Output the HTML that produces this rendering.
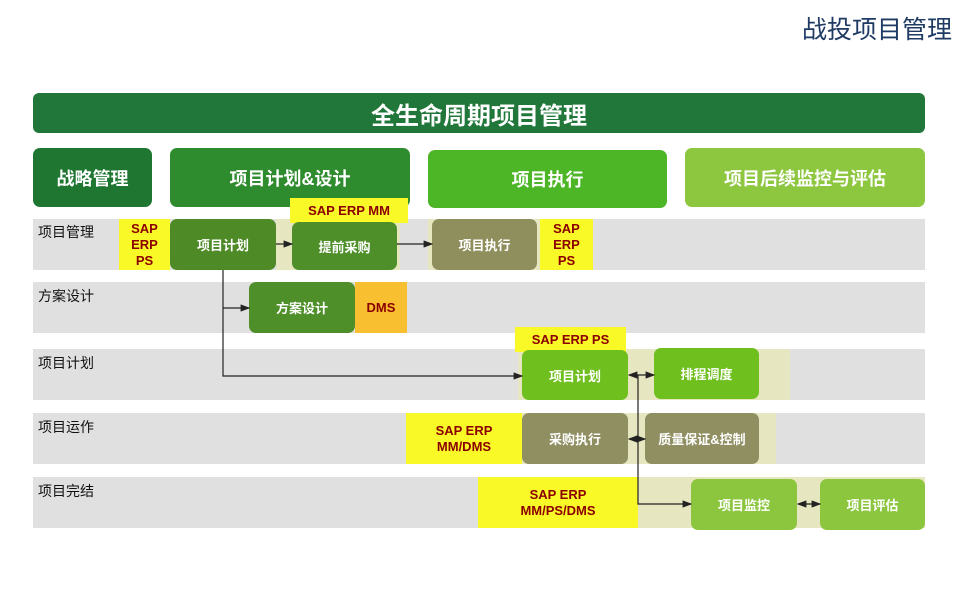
<!DOCTYPE html><html><head><meta charset="utf-8"><style>
body{margin:0;width:960px;height:600px;background:#fff;position:relative;overflow:hidden;font-family:"Liberation Sans","Noto Sans CJK SC",sans-serif}
div{position:absolute;box-sizing:border-box}
.c{display:flex;align-items:center;justify-content:center;text-align:center}
.lane{left:33px;width:892px;height:51px;background:#e0e0e0}
.lab{left:38px;font-size:14px;color:#111}
.bx{border-radius:7px;color:#fff;font-size:13px;font-weight:bold}
.y{background:#f9f928;color:#8b0000;font-weight:bold;font-size:13px;line-height:16px}
.bg{background:#e6e6c0}
.ph{border-radius:7px;color:#fff;font-weight:bold;font-size:18px}
</style></head><body>
<div style="left:780px;top:10px;width:172px;font-size:25px;color:#1f3b64;text-align:right">战投项目管理</div>
<div class="c" style="left:33px;top:93px;width:892px;height:40px;background:#21773a;border-radius:6px;color:#fff;font-size:24px;font-weight:bold">全生命周期项目管理</div>
<div class="c ph" style="left:33px;top:148px;width:119px;height:59px;background:#1e7631">战略管理</div>
<div class="c ph" style="left:170px;top:148px;width:240px;height:59px;background:#2e8b2e">项目计划&amp;设计</div>
<div class="c ph" style="left:428px;top:150px;width:239px;height:58px;background:#4db626">项目执行</div>
<div class="c ph" style="left:685px;top:148px;width:240px;height:59px;background:#8dc63f">项目后续监控与评估</div>

<div class="lane" style="top:219px"></div>
<div class="lane" style="top:282px"></div>
<div class="lane" style="top:349px"></div>
<div class="lane" style="top:413px"></div>
<div class="lane" style="top:477px"></div>
<div class="lab" style="top:222px">项目管理</div>
<div class="lab" style="top:286px">方案设计</div>
<div class="lab" style="top:353px">项目计划</div>
<div class="lab" style="top:417px">项目运作</div>
<div class="lab" style="top:481px">项目完结</div>

<div class="bg" style="left:276px;top:219px;width:124px;height:51px"></div>
<div class="bg" style="left:428px;top:219px;width:112px;height:51px"></div>
<div class="bg" style="left:518px;top:349px;width:272px;height:51px"></div>
<div class="bg" style="left:518px;top:413px;width:258px;height:51px"></div>
<div class="bg" style="left:638px;top:477px;width:287px;height:51px"></div>

<div class="c y" style="left:119px;top:219px;width:51px;height:51px">SAP<br>ERP<br>PS</div>
<div class="c bx" style="left:170px;top:219px;width:106px;height:51px;background:#4e8a26">项目计划</div>
<div class="c y" style="left:290px;top:198px;width:118px;height:25px">SAP ERP MM</div>
<div class="c bx" style="left:292px;top:222px;width:105px;height:48px;background:#4e8f2a">提前采购</div>
<div class="c bx" style="left:432px;top:219px;width:105px;height:51px;background:#8f8f5e">项目执行</div>
<div class="c y" style="left:540px;top:219px;width:53px;height:51px">SAP<br>ERP<br>PS</div>

<div class="c bx" style="left:249px;top:282px;width:106px;height:51px;background:#4e8f2a">方案设计</div>
<div class="c y" style="left:355px;top:282px;width:52px;height:51px;background:#f8c030">DMS</div>

<div class="c y" style="left:515px;top:327px;width:111px;height:25px">SAP ERP PS</div>
<div class="c bx" style="left:522px;top:350px;width:106px;height:50px;background:#6fbf1e">项目计划</div>
<div class="c bx" style="left:654px;top:348px;width:105px;height:51px;background:#6fbf1e">排程调度</div>

<div class="c y" style="left:406px;top:413px;width:116px;height:51px">SAP ERP<br>MM/DMS</div>
<div class="c bx" style="left:522px;top:413px;width:106px;height:51px;background:#8f8f62">采购执行</div>
<div class="c bx" style="left:645px;top:413px;width:114px;height:51px;background:#8f8f62">质量保证&amp;控制</div>

<div class="c y" style="left:478px;top:477px;width:160px;height:51px">SAP ERP<br>MM/PS/DMS</div>
<div class="c bx" style="left:691px;top:479px;width:106px;height:51px;background:#8cc63f">项目监控</div>
<div class="c bx" style="left:820px;top:479px;width:105px;height:51px;background:#8cc63f">项目评估</div>

<svg style="position:absolute;left:0;top:0" width="960" height="600">
<defs><marker id="a" markerWidth="8" markerHeight="8" refX="7" refY="4" orient="auto-start-reverse"><path d="M0,1 L8,4 L0,7z" fill="#222"/></marker></defs>
<g stroke="#222" stroke-width="1.2" fill="none">
<line x1="276" y1="244" x2="292" y2="244" marker-end="url(#a)"/>
<line x1="397" y1="244" x2="432" y2="244" marker-end="url(#a)"/>
<polyline points="223,270 223,376 522,376" marker-end="url(#a)"/>
<line x1="223" y1="308" x2="249" y2="308" marker-end="url(#a)"/>
<line x1="629" y1="375" x2="654" y2="375" marker-start="url(#a)" marker-end="url(#a)"/>
<line x1="629" y1="439" x2="645" y2="439" marker-start="url(#a)" marker-end="url(#a)"/>
<polyline points="638,375 638,504 691,504" marker-end="url(#a)"/>
<line x1="798" y1="504" x2="820" y2="504" marker-start="url(#a)" marker-end="url(#a)"/>
</g></svg>
</body></html>
